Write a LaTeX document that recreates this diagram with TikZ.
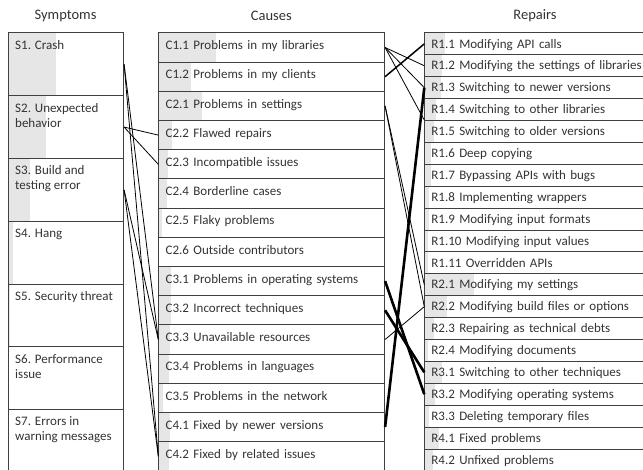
\documentclass[tikz,border=0pt]{standalone}
\usepackage{fontspec}
\setmainfont{Carlito}
\usepackage{tikz}

\definecolor{barfill}{HTML}{E6E6E6}
\definecolor{boxline}{HTML}{404040}
\definecolor{txt}{HTML}{333333}

\begin{document}
\begin{tikzpicture}[x=1pt, y=-1pt, font=\fontsize{13}{15}\selectfont,
    box/.style={draw=boxline, line width=0.8pt, anchor=north west, inner sep=0pt, text=txt},
    bar/.style={path picture={\fill[barfill] (path picture bounding box.north west) rectangle ([xshift=#1]path picture bounding box.south west);}},
    symptom/.style={box, minimum width=115.3pt, minimum height=62.8pt, label={[symtext]north west:{#1}}},
    symtext/.style={anchor=north west, align=left, inner sep=0pt, xshift=7pt, yshift=-7.5pt, text=txt},
    cause/.style={box, text width=212pt, inner xsep=7pt, minimum height=29.2pt, text height=8.4pt, text depth=4pt, align=left},
    repair/.style={box, text width=240pt, inner xsep=6.7pt, minimum height=21.9pt, text height=8.4pt, text depth=0pt, align=left},
    title/.style={font=\fontsize{14.5}{16}\selectfont, text=txt},
    link/.style={line width=0.8pt},
    midlink/.style={line width=1.5pt},
    boldlink/.style={line width=2.6pt}]
    \useasboundingbox (0,0) rectangle (643,470);

    % column titles
    \node[title] (symptoms) at (65.6,16) {Symptoms};
    \node[title] (causes) at (271.3,16) {Causes};
    \node[title] (repairs) at (535,16) {Repairs};

    % symptoms
    \node[symptom={S1. Crash}, bar=48pt] (s1) at (8,32.5) {};
    \node[symptom={S2. Unexpected\\behavior}, bar=38pt] (s2) at (8,95.3) {};
    \node[symptom={S3. Build and\\testing error}, bar=22pt] (s3) at (8,158.1) {};
    \node[symptom={S4. Hang}, bar=5pt] (s4) at (8,220.9) {};
    \node[symptom={S5. Security threat}, bar=2pt] (s5) at (8,283.7) {};
    \node[symptom={S6. Performance\\issue}] (s6) at (8,346.5) {};
    \node[symptom={S7. Errors in\\warning messages}] (s7) at (8,409.3) {};

    % causes
    \node[cause, bar=57pt] (c11) at (158.3,32.5) {C1.1 Problems in my libraries};
    \node[cause, bar=32pt] (c12) at (158.3,61.7) {C1.2 Problems in my clients};
    \node[cause, bar=43pt] (c21) at (158.3,90.9) {C2.1 Problems in settings};
    \node[cause, bar=13pt] (c22) at (158.3,120.1) {C2.2 Flawed repairs};
    \node[cause, bar=9pt] (c23) at (158.3,149.3) {C2.3 Incompatible issues};
    \node[cause, bar=8pt] (c24) at (158.3,178.5) {C2.4 Borderline cases};
    \node[cause, bar=3pt] (c25) at (158.3,207.7) {C2.5 Flaky problems};
    \node[cause] (c26) at (158.3,236.9) {C2.6 Outside contributors};
    \node[cause, bar=12pt] (c31) at (158.3,266.1) {C3.1 Problems in operating systems};
    \node[cause, bar=12pt] (c32) at (158.3,295.3) {C3.2 Incorrect techniques};
    \node[cause, bar=11pt] (c33) at (158.3,324.5) {C3.3 Unavailable resources};
    \node[cause, bar=10pt] (c34) at (158.3,353.7) {C3.4 Problems in languages};
    \node[cause, bar=4pt] (c35) at (158.3,382.9) {C3.5 Problems in the network};
    \node[cause, bar=11pt] (c41) at (158.3,412.1) {C4.1 Fixed by newer versions};
    \node[cause, bar=10pt] (c42) at (158.3,441.3) {C4.2 Fixed by related issues};

    % repairs
    \node[repair, bar=20pt] (r11) at (424.3,32.5) {R1.1 Modifying API calls};
    \node[repair, bar=17pt] (r12) at (424.3,54.4) {R1.2 Modifying the settings of libraries};
    \node[repair, bar=16pt] (r13) at (424.3,76.3) {R1.3 Switching to newer versions};
    \node[repair, bar=11pt] (r14) at (424.3,98.2) {R1.4 Switching to other libraries};
    \node[repair, bar=9pt] (r15) at (424.3,120.1) {R1.5 Switching to older versions};
    \node[repair, bar=6pt] (r16) at (424.3,142.0) {R1.6 Deep copying};
    \node[repair, bar=6pt] (r17) at (424.3,163.9) {R1.7 Bypassing APIs with bugs};
    \node[repair, bar=4pt] (r18) at (424.3,185.8) {R1.8 Implementing wrappers};
    \node[repair, bar=4pt] (r19) at (424.3,207.7) {R1.9 Modifying input formats};
    \node[repair, bar=3pt] (r110) at (424.3,229.6) {R1.10 Modifying input values};
    \node[repair, bar=3pt] (r111) at (424.3,251.5) {R1.11 Overridden APIs};
    \node[repair, bar=49pt] (r21) at (424.3,273.4) {R2.1 Modifying my settings};
    \node[repair, bar=22pt] (r22) at (424.3,295.3) {R2.2 Modifying build files or options};
    \node[repair, bar=9pt] (r23) at (424.3,317.2) {R2.3 Repairing as technical debts};
    \node[repair, bar=3pt] (r24) at (424.3,339.1) {R2.4 Modifying documents};
    \node[repair, bar=17pt] (r31) at (424.3,361.0) {R3.1 Switching to other techniques};
    \node[repair, bar=10pt] (r32) at (424.3,382.9) {R3.2 Modifying operating systems};
    \node[repair, bar=4pt] (r33) at (424.3,404.8) {R3.3 Deleting temporary files};
    \node[repair, bar=14pt] (r41) at (424.3,426.7) {R4.1 Fixed problems};
    \node[repair, bar=8pt] (r42) at (424.3,448.6) {R4.2 Unfixed problems};

    % symptoms to causes
    \draw[link] (s1.east) -- (c33.west);
    \draw[link] (s1.east) -- (c42.west);
    \draw[link] (s2.east) -- (c22.west);
    \draw[link] (s2.east) -- (c23.west);
    \draw[link] (s3.east) -- (c33.west);
    \draw[link] (s3.east) -- (c42.west);

    % causes to repairs
    \draw[link] (c11.east) -- (r12.west);
    \draw[link] (c11.east) -- (r13.west);
    \draw[link] (c11.east) -- (r15.north west);
    \draw[midlink] (c12.east) -- (r11.west);
    \draw[link] (c21.east) -- (r21.west);
    \draw[link] (c21.east) -- (r22.west);
    \draw[link] (c33.east) -- (r22.west);
    \draw[boldlink] (c31.east) -- (r32.west);
    \draw[boldlink] (c32.east) -- (r31.west);
    \draw[boldlink] (c41.east) -- (r13.west);
  \end{tikzpicture}
\end{document}
